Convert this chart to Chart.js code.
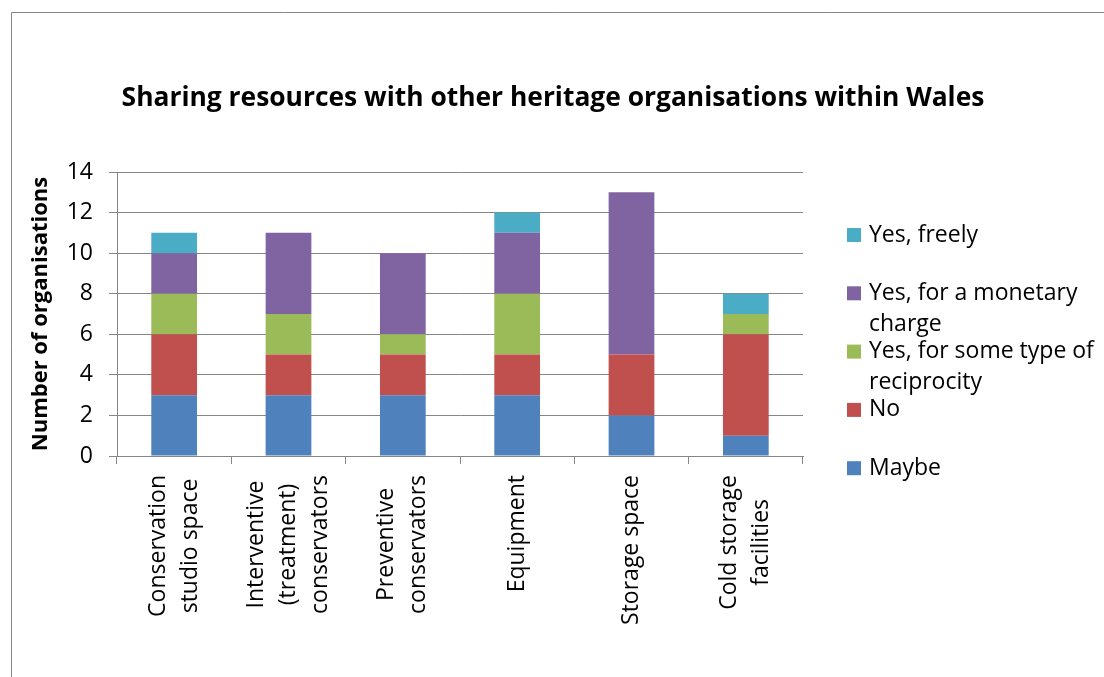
<!DOCTYPE html>
<html>
<head>
<meta charset="utf-8">
<script src="https://cdn.jsdelivr.net/npm/chart.js@4"></script>
<style>
    html, body { margin: 0; padding: 0; background: #fff; }
    #wrap { position: relative; width: 1104px; height: 677px; }
</style>
</head>
<body>
<div id="wrap"><canvas id="shareChart" width="1104" height="677"></canvas></div>
<script>
// ======================================
// DATA
// ======================================
const chartTitle = "Sharing resources with other heritage organisations within Wales";
const categories = [
    ["Conservation", "studio space"],
    ["Interventive", "(treatment)", "conservators"],
    ["Preventive", "conservators"],
    ["Equipment"],
    ["Storage space"],
    ["Cold storage", "facilities"]
];
const maybe       = [3, 3, 3, 3, 2, 1];
const no          = [3, 2, 2, 2, 3, 5];
const reciprocity = [2, 2, 1, 3, 0, 1];
const monetary    = [2, 4, 4, 3, 8, 0];
const freely      = [1, 0, 0, 1, 0, 1];
const yTicks      = [0, 2, 4, 6, 8, 10, 12, 14];

const FONT = "'Open Sans', sans-serif";
const GRID = "#868686";

// ======================================
// PLUGIN: frame, title, rotated x labels, legend
// ======================================
const extras = {
    id: "extras",
    beforeDraw(chart) {
        const c = chart.ctx;
        c.save();
        c.strokeStyle = GRID;
        c.lineWidth = 1;
        c.beginPath();
        c.moveTo(11.5, 677);
        c.lineTo(11.5, 12.5);
        c.lineTo(1104, 12.5);
        c.stroke();
        c.restore();
    },
    afterDraw(chart) {
        const c = chart.ctx;
        const xs = chart.scales.x;

        // title, centred on the whole frame
        c.save();
        c.fillStyle = "#000";
        c.font = "bold 26.4px " + FONT;
        c.textAlign = "center";
        c.textBaseline = "middle";
        c.fillText(chartTitle, 553, 98);
        c.restore();

        // category labels, read bottom-to-top, lines centred on each other
        c.save();
        c.fillStyle = "#000";
        c.font = "23px " + FONT;
        c.textBaseline = "middle";
        c.textAlign = "center";
        const lineH = 32;
        const top = xs.top + 19;
        categories.forEach((lines, i) => {
            const px = xs.getPixelForTick(i);
            const longest = Math.max(...lines.map(l => c.measureText(l).width));
            lines.forEach((l, j) => {
                const lx = px + (j - (lines.length - 1) / 2) * lineH;
                c.save();
                c.translate(lx, top + longest / 2);
                c.rotate(-Math.PI / 2);
                c.fillText(l, 0, 0);
                c.restore();
            });
        });
        c.restore();

        // legend, last series on top
        c.save();
        c.font = "23px " + FONT;
        c.textBaseline = "middle";
        c.textAlign = "left";
        const sets = chart.data.datasets.slice().reverse();
        const boxX = 847, textX = 869, maxW = 234;
        let y = 235;
        sets.forEach(ds => {
            const words = ds.label.split(" ");
            const rows = [];
            let cur = "";
            words.forEach(w => {
                const t = cur ? cur + " " + w : w;
                if (c.measureText(t).width > maxW && cur) { rows.push(cur); cur = w; }
                else cur = t;
            });
            rows.push(cur);
            c.fillStyle = ds.backgroundColor;
            c.fillRect(boxX, y - 7, 14, 14);
            c.fillStyle = "#000";
            rows.forEach((r, k) => c.fillText(r, textX, y + k * 31));
            y += 58.3;
        });
        c.restore();
    }
};

// ======================================
// CHART INIT
// ======================================
let ctx = document.getElementById("shareChart");
let chart = new Chart(ctx, {
    type: "bar",
    data: {
        labels: categories,
        datasets: [
            { label: "Maybe", data: maybe, backgroundColor: "#4F81BD" },
            { label: "No", data: no, backgroundColor: "#C0504D" },
            { label: "Yes, for some type of reciprocity", data: reciprocity, backgroundColor: "#9BBB59" },
            { label: "Yes, for a monetary charge", data: monetary, backgroundColor: "#8064A2" },
            { label: "Yes, freely", data: freely, backgroundColor: "#4BACC6" }
        ]
    },
    options: {
        responsive: false,
        animation: false,
        barPercentage: 0.4,
        categoryPercentage: 1,
        layout: { padding: { left: 0, right: 301, top: 172, bottom: 0 } },
        plugins: {
            legend: { display: false },
            tooltip: { enabled: false }
        },
        scales: {
            x: {
                stacked: true,
                afterFit: s => { s.height = 677 - 456; },
                ticks: { display: false },
                border: { color: GRID, width: 1 },
                grid: { offset: true, drawOnChartArea: false, drawTicks: true, tickLength: 8, color: GRID }
            },
            y: {
                stacked: true,
                min: 0,
                max: 14,
                afterFit: s => { s.width = 117; },
                afterBuildTicks: s => { s.ticks = yTicks.map(v => ({ value: v })); },
                ticks: { color: "#000", padding: 16, font: { family: FONT, size: 23 } },
                border: { color: GRID, width: 1 },
                grid: { color: GRID, tickLength: 8 },
                title: {
                    display: true,
                    text: "Number of organisations",
                    color: "#000",
                    font: { family: FONT, size: 22, weight: "bold" },
                    padding: { top: 28 }
                }
            }
        }
    },
    plugins: [extras]
});
</script>
</body>
</html>
